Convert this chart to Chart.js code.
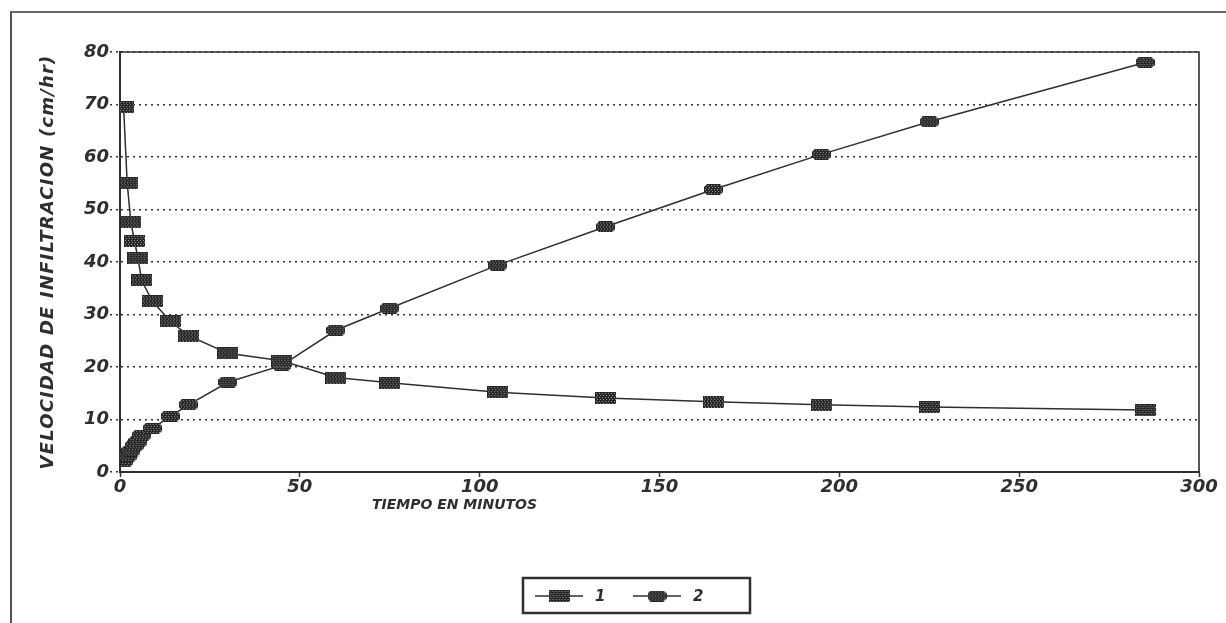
<!DOCTYPE html>
<html>
<head>
<meta charset="utf-8">
<script src="https://cdn.jsdelivr.net/npm/chart.js@4"></script>
<style>
  html, body { margin: 0; padding: 0; background: #fff; }
  #wrap { position: relative; width: 1226px; height: 623px; overflow: hidden; }
  #frame { position: absolute; left: 10px; top: 11px; right: -6px; bottom: -6px;
           border-left: 2px solid #555; border-top: 2px solid #666; }
  canvas { position: absolute; left: 0; top: 0; }
</style>
</head>
<body>
<div id="wrap">
  <div id="frame"></div>
  <canvas id="chart" width="1226" height="623"></canvas>
</div>
<script>
// tiempo en minutos
const tiempo = [1, 2, 3, 4, 5, 6, 9, 14, 19, 30, 45, 60, 75, 105, 135, 165, 195, 225, 285];
// serie 1: velocidad de infiltracion
const serie1 = [69.5, 55, 47.7, 44, 40.8, 36.5, 32.5, 28.7, 26, 22.6, 21.2, 18, 17, 15.2, 14.1, 13.4, 12.8, 12.4, 11.8];
// serie 2: acumulada
const serie2 = [2, 3, 4, 5, 5.8, 7, 8.3, 10.6, 12.8, 17.1, 20.3, 27, 31.2, 39.4, 46.7, 53.8, 60.5, 66.7, 78];

const xTicks = [0, 50, 100, 150, 200, 250, 300];
const yTicks = [0, 10, 20, 30, 40, 50, 60, 70, 80];
const seriesNames = ['1', '2'];
const yTitle = 'VELOCIDAD DE INFILTRACION (cm/hr)';
const xTitle = 'TIEMPO EN MINUTOS';

const ink = '#2f2f2f';
const tickFont = { family: 'DejaVu Sans', size: 18, style: 'italic', weight: 'bold' };

// halftone-looking markers, like the photocopied original
function makeMarker(w, h, notched) {
  const c = document.createElement('canvas');
  c.width = w; c.height = h;
  const g = c.getContext('2d');
  g.fillStyle = '#262626';
  if (notched) {
    const n = 3;
    g.beginPath();
    g.moveTo(n, 0); g.lineTo(w - n, 0); g.lineTo(w, n); g.lineTo(w, h - n);
    g.lineTo(w - n, h); g.lineTo(n, h); g.lineTo(0, h - n); g.lineTo(0, n);
    g.closePath(); g.fill();
  } else {
    g.fillRect(0, 0, w, h);
  }
  g.globalCompositeOperation = 'source-atop';
  g.fillStyle = '#9a9a9a';
  for (let y = 1; y < h; y += 2) {
    for (let x = (y % 4 === 1 ? 1 : 2); x < w; x += 3) g.fillRect(x, y, 1, 1);
  }
  return c;
}
const marker1 = makeMarker(21, 12, false);
const marker2 = makeMarker(19, 11, true);

const toPoints = vals => tiempo.map((t, i) => ({ x: t, y: vals[i] }));

const decor = {
  id: 'decor',
  afterDraw(chart) {
    const { ctx, chartArea: a } = chart;
    ctx.save();
    // solid top and right edges of the plot box
    ctx.strokeStyle = ink;
    ctx.lineWidth = 1.6;
    ctx.beginPath();
    ctx.moveTo(a.left, a.top);
    ctx.lineTo(a.right, a.top);
    ctx.lineTo(a.right, a.bottom);
    ctx.stroke();

    // axis titles
    ctx.fillStyle = ink;
    ctx.textAlign = 'center';
    ctx.textBaseline = 'middle';
    ctx.font = 'italic bold 18px "DejaVu Sans"';
    ctx.letterSpacing = '1.2px';
    ctx.save();
    ctx.translate(48, (a.top + a.bottom) / 2);
    ctx.rotate(-Math.PI / 2);
    ctx.fillText(yTitle, 0, 0);
    ctx.restore();
    ctx.letterSpacing = '0px';
    ctx.font = 'italic bold 14px "DejaVu Sans"';
    ctx.fillText(xTitle, a.left + 0.31 * (a.right - a.left), 505);

    // boxed legend
    ctx.lineWidth = 2.5;
    ctx.strokeRect(523, 578, 227, 35);
    ctx.font = 'italic bold 15px "DejaVu Sans"';
    ctx.textAlign = 'left';
    chart.data.datasets.forEach((ds, i) => {
      const x0 = 535 + i * 98, y0 = 596;
      ctx.lineWidth = ds.borderWidth;
      ctx.strokeStyle = ds.borderColor;
      ctx.beginPath();
      ctx.moveTo(x0, y0);
      ctx.lineTo(x0 + 48, y0);
      ctx.stroke();
      const img = ds.pointStyle;
      ctx.drawImage(img, x0 + 24 - img.width / 2, y0 - img.height / 2);
      ctx.fillText(ds.label, x0 + 60, y0 + 1);
    });
    ctx.restore();
  }
};

new Chart(document.getElementById('chart').getContext('2d'), {
  type: 'line',
  data: {
    datasets: [
      { label: seriesNames[0], data: toPoints(serie1), borderColor: ink, borderWidth: 1.5,
        pointStyle: marker1, pointRadius: 8, tension: 0, fill: false },
      { label: seriesNames[1], data: toPoints(serie2), borderColor: ink, borderWidth: 1.5,
        pointStyle: marker2, pointRadius: 8, tension: 0, fill: false }
    ]
  },
  options: {
    responsive: false,
    animation: false,
    layout: { padding: { left: 0, right: 27, top: 52, bottom: 0 } },
    plugins: { legend: { display: false }, tooltip: { enabled: false } },
    scales: {
      x: {
        type: 'linear', min: 0, max: 300,
        afterBuildTicks: s => { s.ticks = xTicks.map(v => ({ value: v })); },
        afterFit: s => { s.height = 151; },
        ticks: { font: tickFont, color: ink, padding: 0, maxRotation: 0 },
        grid: { display: true, drawOnChartArea: false, tickLength: 5, tickColor: ink, tickWidth: 1.5 },
        border: { color: ink, width: 2 }
      },
      y: {
        type: 'linear', min: 0, max: 80,
        afterBuildTicks: s => { s.ticks = yTicks.map(v => ({ value: v })); },
        afterFit: s => { s.width = 120; },
        ticks: { font: tickFont, color: ink, padding: 1 },
        grid: { color: '#333', lineWidth: 1.6, tickLength: 10, tickColor: '#333',
                tickWidth: 1.5, tickBorderDash: [2, 4] },
        border: { color: ink, width: 2, dash: [2, 4] }
      }
    }
  },
  plugins: [decor]
});
</script>
</body>
</html>
